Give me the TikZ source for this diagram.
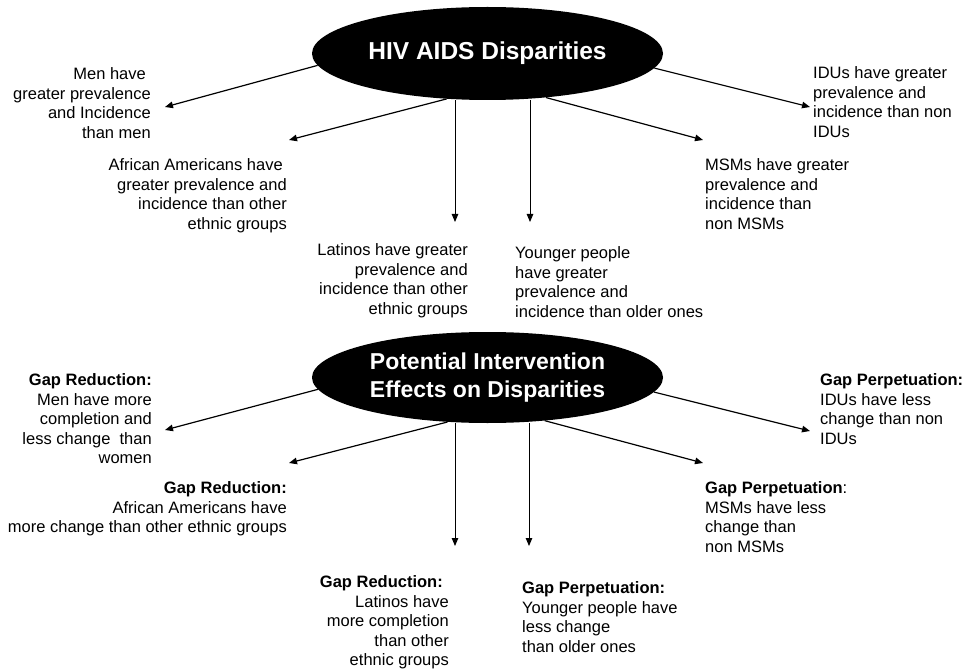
\documentclass[tikz,border=0pt]{standalone}
\usepackage{fontspec}
\setmainfont{Liberation Sans}
\usetikzlibrary{shapes.geometric,arrows.meta}

\begin{document}
\begin{tikzpicture}[x=1pt,y=-1pt,
    blob/.style={ellipse,fill=black,text=white,inner sep=0pt,minimum width=351pt,align=center,font=\bfseries\fontsize{24.5}{28}\selectfont},
    lbl/.style={inner sep=0pt,font=\fontsize{16.5}{19.5}\selectfont},
    lft/.style={lbl,anchor=north east,align=right},
    rgt/.style={lbl,anchor=north west,align=left},
    arr/.style={-{Triangle[length=8pt,width=6.5pt]},line width=1.2pt},
    varr/.style={arr,line width=0.9pt}]
  \useasboundingbox (0,0) rectangle (966,671);

  % disparities
  \node[blob,minimum height=93pt] (hiv) at (487.5,53.5) {HIV AIDS Disparities};
  \node[lft] (men) at (151,67.5) {Men have\hspace*{5pt}\\greater prevalence\\and Incidence\hspace*{4pt}\\than men};
  \node[lft] (afam) at (287,158.5) {African Americans have\hspace*{4pt}\\greater prevalence and\hspace*{4pt}\\incidence than other\hspace*{4pt}\\ethnic groups};
  \node[lft] (lat) at (468,243.5) {Latinos have greater\\prevalence and\hspace*{5pt}\\incidence than other\hspace*{5pt}\\ethnic groups};
  \node[rgt] (young) at (515,246.5) {Younger people\\have greater\\prevalence and\\incidence than older ones};
  \node[rgt] (msm) at (705,158.5) {MSMs have greater\\prevalence and\\incidence than\\non MSMs};
  \node[rgt] (idu) at (813,66.5) {IDUs have greater\\prevalence and\\incidence than non\\IDUs};

  \coordinate (tMen) at (165,107);
  \coordinate (tAfam) at (289,140);
  \coordinate (tLat) at (455,222);
  \coordinate (tYoung) at (530,222);
  \coordinate (tMsm) at (703,140);
  \coordinate (tIdu) at (810,107);
  \draw[arr] (hiv.184.5) -- (tMen);
  \draw[arr] (hiv.228.3) -- (tAfam);
  \draw[varr] (hiv.south -| tLat) -- (tLat);
  \draw[varr] (hiv.south -| tYoung) -- (tYoung);
  \draw[arr] (hiv.323) -- (tMsm);
  \draw[arr] (hiv.355.5) -- (tIdu);

  % intervention effects
  \node[blob,minimum height=91pt,font=\bfseries\fontsize{23}{28}\selectfont] (eff) at (487.5,377.5) {Potential Intervention\\Effects on Disparities};
  \node[lft] (menG) at (152,373.5) {\textbf{Gap Reduction:}\\Men have more\\completion and\hspace*{5pt}\\less change\ \ than\hspace*{5pt}\\women};
  \node[lft] (afamG) at (287,481.5) {\textbf{Gap Reduction:}\\African Americans have\hspace*{4pt}\\more change than other ethnic groups};
  \node[lft] (latG) at (449,575.5) {\textbf{Gap Reduction:}\hspace*{6pt}\\Latinos have\hspace*{4pt}\\more completion\\than other\hspace*{4pt}\\ethnic groups};
  \node[rgt] (youngG) at (522,581.5) {\textbf{Gap Perpetuation:}\\Younger people have\\less change\\than older ones};
  \node[rgt] (msmG) at (705,481.5) {\textbf{Gap Perpetuation}:\\MSMs have less\\change than\\non MSMs};
  \node[rgt] (iduG) at (820,373.5) {\textbf{Gap Perpetuation:}\\IDUs have less\\change than non\\IDUs};

  \coordinate (gMen) at (165,430);
  \coordinate (gAfam) at (289,463);
  \coordinate (gLat) at (455,546);
  \coordinate (gYoung) at (529,546);
  \coordinate (gMsm) at (703,463);
  \coordinate (gIdu) at (810,431);
  \draw[arr] (eff.184.5) -- (gMen);
  \draw[arr] (eff.228.3) -- (gAfam);
  \draw[varr] (eff.south -| gLat) -- (gLat);
  \draw[varr] (eff.south -| gYoung) -- (gYoung);
  \draw[arr] (eff.323) -- (gMsm);
  \draw[arr] (eff.355.5) -- (gIdu);
\end{tikzpicture}
\end{document}
